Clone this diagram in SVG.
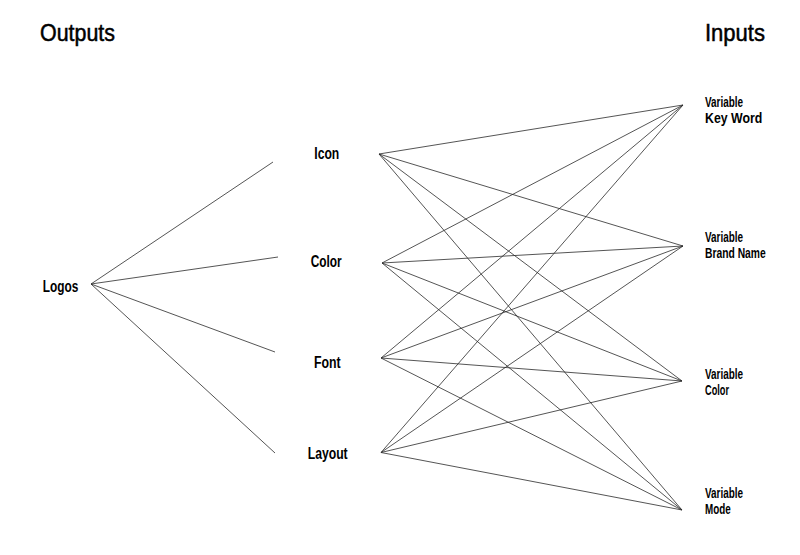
<svg xmlns="http://www.w3.org/2000/svg" width="800" height="555" viewBox="0 0 800 555">
<style>
text{font-family:"Liberation Sans",Arial,sans-serif;font-weight:bold;fill:#000}
.t{font-size:23px;font-weight:normal;stroke:#000;stroke-width:0.5}
.n{font-size:16px}
.s{font-size:14px}
.c line{stroke:#2a2a2a;stroke-width:0.8;fill:none}
</style>
<rect width="800" height="555" fill="#fff"/>
<g id="title-outputs"><text class="t" x="40" y="41" textLength="75" lengthAdjust="spacingAndGlyphs">Outputs</text></g>
<g id="title-inputs"><text class="t" x="705" y="41" textLength="60" lengthAdjust="spacingAndGlyphs">Inputs</text></g>
<g class="c" id="connectors">
<line x1="91" y1="284" x2="273" y2="162"/>
<line x1="91" y1="284" x2="278" y2="257"/>
<line x1="91" y1="284" x2="275" y2="352"/>
<line x1="91" y1="284" x2="275" y2="453"/>
<line x1="379" y1="154" x2="683" y2="105"/>
<line x1="379" y1="154" x2="683" y2="246"/>
<line x1="379" y1="154" x2="682" y2="381"/>
<line x1="379" y1="154" x2="682" y2="510"/>
<line x1="382" y1="263" x2="683" y2="105"/>
<line x1="382" y1="263" x2="683" y2="246"/>
<line x1="382" y1="263" x2="682" y2="381"/>
<line x1="382" y1="263" x2="682" y2="510"/>
<line x1="381" y1="358" x2="683" y2="105"/>
<line x1="381" y1="358" x2="683" y2="246"/>
<line x1="381" y1="358" x2="682" y2="381"/>
<line x1="381" y1="358" x2="682" y2="510"/>
<line x1="381" y1="452.5" x2="683" y2="105"/>
<line x1="381" y1="452.5" x2="683" y2="246"/>
<line x1="381" y1="452.5" x2="682" y2="381"/>
<line x1="381" y1="452.5" x2="682" y2="510"/>
</g>
<g id="node-logos"><text class="n" x="42.7" y="291.5" textLength="35.6" lengthAdjust="spacingAndGlyphs">Logos</text></g>
<g id="node-icon"><text class="n" x="314.3" y="159" textLength="25" lengthAdjust="spacingAndGlyphs">Icon</text></g>
<g id="node-color"><text class="n" x="310.7" y="267" textLength="31" lengthAdjust="spacingAndGlyphs">Color</text></g>
<g id="node-font"><text class="n" x="314" y="367.5" textLength="26.7" lengthAdjust="spacingAndGlyphs">Font</text></g>
<g id="node-layout"><text class="n" x="307.7" y="458.7" textLength="40" lengthAdjust="spacingAndGlyphs">Layout</text></g>
<g id="input-keyword">
<text class="s" x="705" y="107" textLength="38" lengthAdjust="spacingAndGlyphs">Variable</text>
<text class="s" x="705" y="123" textLength="57.3" lengthAdjust="spacingAndGlyphs">Key Word</text>
</g>
<g id="input-brandname">
<text class="s" x="705" y="242" textLength="38" lengthAdjust="spacingAndGlyphs">Variable</text>
<text class="s" x="705" y="258" textLength="60.7" lengthAdjust="spacingAndGlyphs">Brand Name</text>
</g>
<g id="input-color">
<text class="s" x="705" y="379" textLength="38" lengthAdjust="spacingAndGlyphs">Variable</text>
<text class="s" x="705" y="395" textLength="24" lengthAdjust="spacingAndGlyphs">Color</text>
</g>
<g id="input-mode">
<text class="s" x="705" y="498" textLength="38" lengthAdjust="spacingAndGlyphs">Variable</text>
<text class="s" x="705" y="514" textLength="25.7" lengthAdjust="spacingAndGlyphs">Mode</text>
</g>
</svg>
